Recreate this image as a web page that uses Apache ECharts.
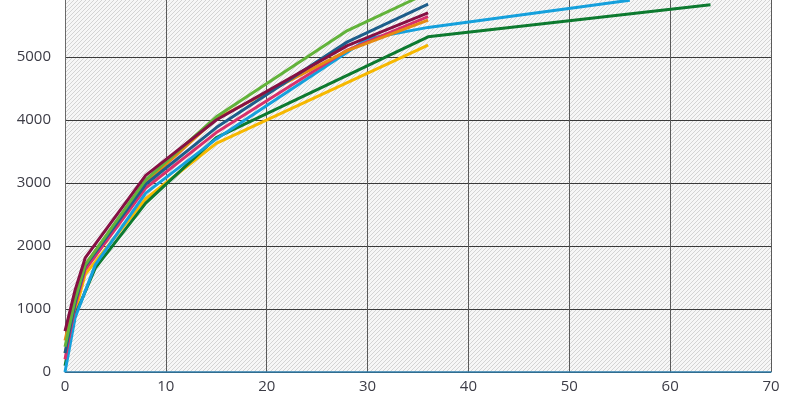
<!DOCTYPE html>
<html>
<head>
<meta charset="utf-8">
<script src="https://cdn.jsdelivr.net/npm/echarts@6/dist/echarts.min.js"></script>
<style>
html,body{margin:0;padding:0;background:#fff;overflow:hidden;}
#c{width:800px;height:406px;margin-top:-6px;}
</style>
</head>
<body>
<div id="c"></div>
<script>
// ---- data (x = age, y = value) ----
const xTicks = [0, 10, 20, 30, 40, 50, 60, 70];
const yTicks = [0, 1000, 2000, 3000, 4000, 5000, 6000];
const yellowS   = [[0,300],[1,950],[2,1550],[8,2750],[15,3630],[36,5190]];
const darkGreenS= [[0,100],[1,900],[3,1650],[8,2680],[15,3720],[36,5320],[64,5830]];
const lightBlueS= [[0,0],[1,860],[3,1700],[8,2840],[15,3700],[30,5290],[36,5470],[56,5900]];
const magentaS  = [[0,200],[1,1050],[2,1620],[8,2920],[15,3800],[28,5110],[36,5640]];
const orangeS   = [[0,500],[1,1200],[2,1700],[8,3000],[15,4020],[28,5100],[36,5585]];
const darkBlueS = [[0,300],[1,1100],[2,1680],[8,2980],[15,3880],[28,5240],[36,5840]];
const greenS    = [[0,400],[1,1150],[2,1700],[8,3050],[15,4050],[28,5420],[36,6020]];
const maroonS   = [[0,650],[1,1300],[2,1810],[8,3120],[15,4000],[28,5180],[36,5700]];

const seriesList = [
  {name:'yellow', data:yellowS, color:'#f6b800'},
  {name:'darkgreen', data:darkGreenS, color:'#0d7a2f'},
  {name:'lightblue', data:lightBlueS, color:'#15a0dc'},
  {name:'magenta', data:magentaS, color:'#d8306b'},
  {name:'orange', data:orangeS, color:'#e58a12'},
  {name:'darkblue', data:darkBlueS, color:'#1d5e8b'},
  {name:'green', data:greenS, color:'#62b33a'},
  {name:'maroon', data:maroonS, color:'#861043'}
];

// hatch pattern for plot background
const tile = document.createElement('canvas');
tile.width = 4; tile.height = 4;
const tc = tile.getContext('2d');
tc.fillStyle = '#f7f7f7';
tc.fillRect(0,0,4,4);
tc.strokeStyle = '#d4d4d4';
tc.lineWidth = 1;
tc.beginPath();
tc.moveTo(0,4); tc.lineTo(4,0);
tc.moveTo(-1,1); tc.lineTo(1,-1);
tc.moveTo(3,5); tc.lineTo(5,3);
tc.stroke();

const chart = echarts.init(document.getElementById('c'), null, {renderer:'canvas'});
chart.setOption({
  animation:false,
  backgroundColor:'#ffffff',
  grid:{left:65, right:29, top:0, bottom:28, show:true, borderWidth:0,
        backgroundColor:{image:tile, repeat:'repeat'}},
  xAxis:{
    type:'value', min:xTicks[0], max:xTicks[xTicks.length-1], interval:10,
    axisLine:{show:true, onZero:false, lineStyle:{color:'#2f7fad', width:1.5}},
    axisTick:{show:false},
    axisLabel:{color:'#3c3c46', fontSize:15, fontFamily:'Open Sans', margin:7},
    splitLine:{show:true, lineStyle:{color:'#5a5a5a', width:1}}
  },
  yAxis:{
    type:'value', min:yTicks[0], max:yTicks[yTicks.length-1], interval:1000,
    axisLine:{show:true, lineStyle:{color:'#6a6a6a', width:1}},
    axisTick:{show:false},
    axisLabel:{color:'#3c3c46', fontSize:15, fontFamily:'Open Sans', margin:14,
               showMaxLabel:false, formatter:v => String(v)},
    splitLine:{show:true, lineStyle:{color:'#3a3a3a', width:1}}
  },
  series: seriesList.map(s => ({
    name:s.name, type:'line', data:s.data, showSymbol:false, symbol:'none',
    lineStyle:{color:s.color, width:3}, itemStyle:{color:s.color}
  }))
});
</script>
</body>
</html>
